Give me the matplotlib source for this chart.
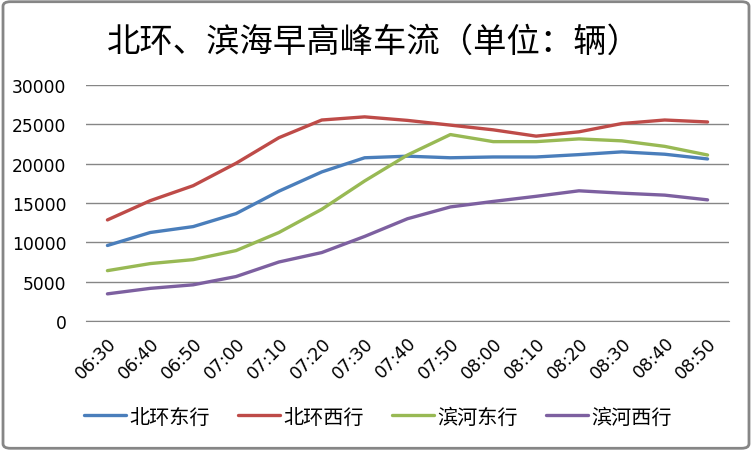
import matplotlib

matplotlib.use("Agg")

import matplotlib.pyplot as plt
from matplotlib.patches import FancyBboxPatch
import numpy as np

plt.rcParams["font.family"] = ["Noto Sans CJK SC", "DejaVu Sans"]

# time slots on the category axis
times = ["06:30", "06:40", "06:50", "07:00", "07:10", "07:20", "07:30", "07:40",
         "07:50", "08:00", "08:10", "08:20", "08:30", "08:40", "08:50"]

# vehicles per slot
beihuan_east = [9600, 11250, 12000, 13650, 16500, 18950, 20750, 20950,
                20750, 20850, 20850, 21150, 21500, 21200, 20600]
beihuan_west = [12850, 15300, 17200, 20050, 23300, 25550, 25950, 25500,
                24900, 24300, 23500, 24050, 25100, 25550, 25300]
binhe_east = [6400, 7300, 7800, 8950, 11250, 14200, 17800, 21100,
              23700, 22800, 22800, 23150, 22900, 22200, 21100]
binhe_west = [3450, 4150, 4600, 5650, 7500, 8700, 10750, 13000,
              14500, 15200, 15850, 16550, 16250, 16000, 15400]

series = [
    ("北环东行", beihuan_east, "#4A7EBB"),
    ("北环西行", beihuan_west, "#BE4B48"),
    ("滨河东行", binhe_east, "#98B954"),
    ("滨河西行", binhe_west, "#7D60A0"),
]
yticks = [0, 5000, 10000, 15000, 20000, 25000, 30000]

fig = plt.figure(figsize=(7.52, 4.52), dpi=100)
ax = fig.add_axes([86 / 752, 1 - 322 / 452, (729 - 86) / 752, (322 - 86) / 452])

x = np.arange(len(times))
for name, vals, color in series:
    ax.plot(x, vals, color=color, lw=2.4, label=name, solid_capstyle="round")

ax.set_xlim(-0.5, len(times) - 0.5)
ax.set_ylim(0, 30000)
ax.set_yticks(yticks)
ax.set_yticklabels([str(v) for v in yticks], family="DejaVu Sans", fontsize=12.3)
ax.set_xticks(x)
ax.set_xticklabels(times, rotation=45, ha="right", rotation_mode="anchor",
                   family="DejaVu Sans", fontsize=12.5)
ax.tick_params(axis="both", length=0)
ax.tick_params(axis="y", pad=14)
ax.tick_params(axis="x", pad=9)
ax.grid(axis="y", color="#868686", lw=1)
ax.set_axisbelow(True)
for s in ("top", "right", "left"):
    ax.spines[s].set_visible(False)
ax.spines["bottom"].set_color("#868686")

fig.text(0.497, 1 - 42 / 452, "北环、滨海早高峰车流（单位：辆）", ha="center", va="center",
         fontsize=24)

fig.legend(loc="center", bbox_to_anchor=(0.502, 1 - 418 / 452), ncol=4, frameon=False,
           fontsize=14.5, handlelength=2.1, handletextpad=0.15, columnspacing=1.4)

# rounded chart-area border
border = FancyBboxPatch((0.004, 0.006), 0.992, 0.988, boxstyle="round,pad=0,rounding_size=0.01",
                        transform=fig.transFigure, fill=False, ec="#868686", lw=2)
fig.patches.append(border)

fig.savefig("out.png", dpi=100)
